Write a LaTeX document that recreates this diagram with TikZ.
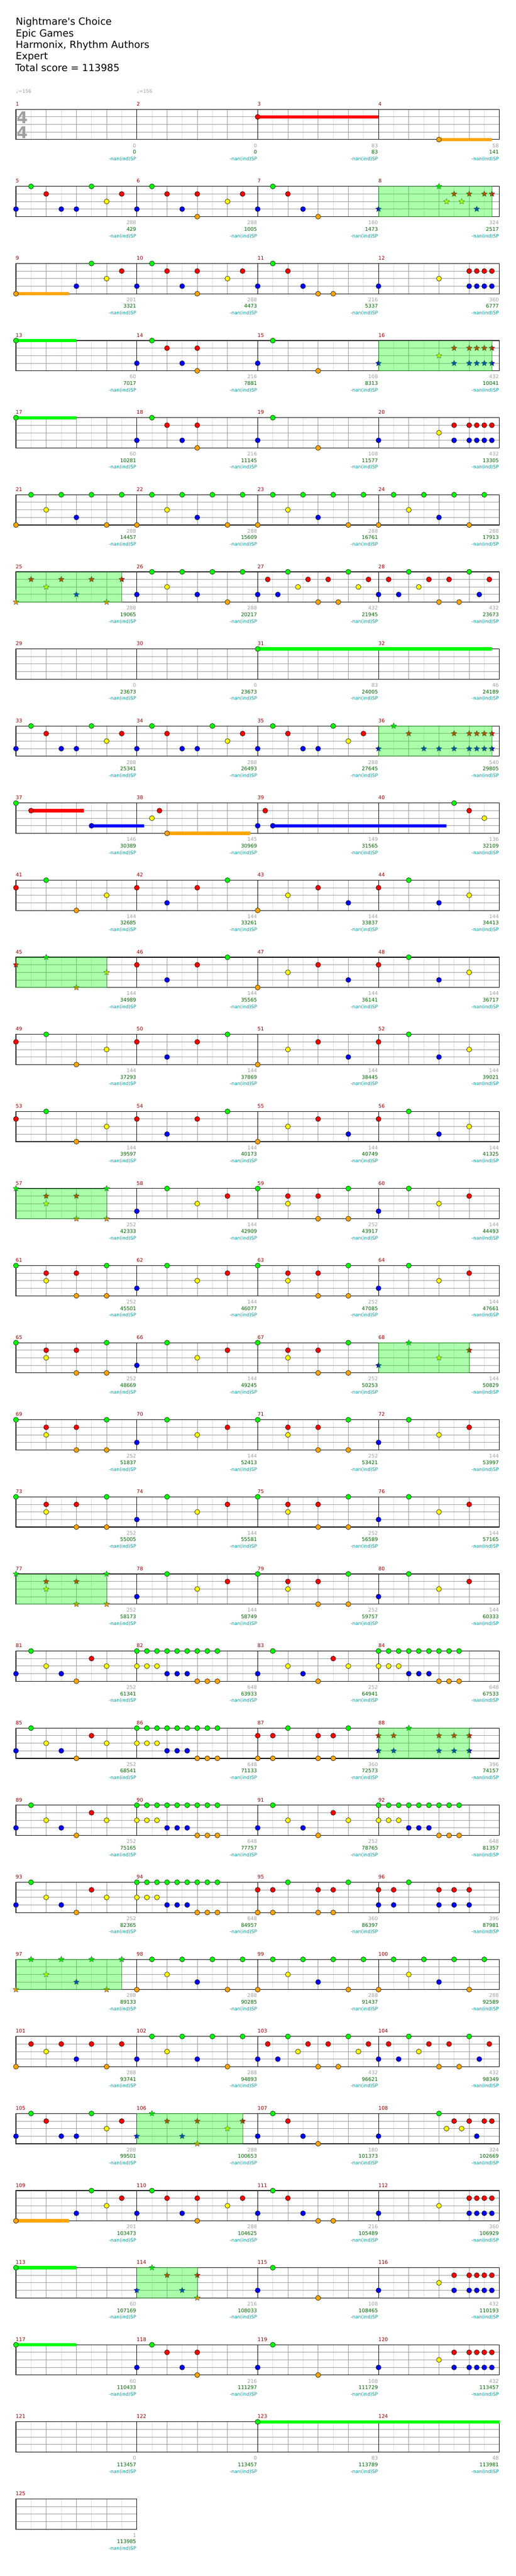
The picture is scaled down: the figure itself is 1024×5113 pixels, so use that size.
\documentclass[tikz,border=0pt]{standalone}
\usepackage{fontspec}
\setmainfont{DejaVu Sans}
\usepackage{tikz}

\definecolor{fret0}{RGB}{0,255,0}
\definecolor{fret1}{RGB}{255,0,0}
\definecolor{fret2}{RGB}{255,255,0}
\definecolor{fret3}{RGB}{0,0,255}
\definecolor{fret4}{RGB}{255,165,0}
\definecolor{measurered}{RGB}{150,0,0}
\definecolor{basegray}{RGB}{160,160,160}
\definecolor{totalgreen}{RGB}{0,100,0}
\definecolor{spteal}{RGB}{0,153,153}
\definecolor{spedge}{RGB}{0,128,0}
\definecolor{lightgrid}{RGB}{221,221,221}
\definecolor{midgrid}{RGB}{153,153,153}

\tikzset{
  eighthline/.style={draw=lightgrid, line width=1pt},
  beatline/.style={draw=midgrid, line width=1pt},
  barline/.style={draw=black, line width=1pt},
  staffframe/.style={draw=black, line width=1.2pt},
  gem/.style={draw=black, line width=0.6pt},
  stargem/.style={draw=black!80, line width=0.45pt},
  sustainbar/.style={line width=6.5pt},
  spfill/.style={fill=fret0, fill opacity=0.33, draw=spedge, draw opacity=0.7, line width=0.8pt},
  titleline/.style={anchor=base west, inner sep=0pt, font=\fontsize{19.5}{23}\selectfont},
  tempomark/.style={anchor=base west, inner sep=0pt, text=basegray, font=\fontsize{9.5}{11}\selectfont},
  timesig/.style={anchor=base, inner sep=0pt, text=basegray, font=\fontsize{32}{32}\selectfont\bfseries},
  measurenum/.style={anchor=base west, inner sep=0pt, text=measurered, font=\fontsize{10}{12}\selectfont},
  basescore/.style={anchor=base east, inner sep=0pt, text=basegray, font=\fontsize{10}{12}\selectfont},
  totalscore/.style={anchor=base east, inner sep=0pt, text=totalgreen, font=\fontsize{10}{12}\selectfont},
  spvalue/.style={anchor=base east, inner sep=0pt, text=spteal, font=\fontsize{9.3}{11}\selectfont}
}

% one row of the chart: row, first measure, measures, base/total scores
\newcommand{\chartstaff}[4]{%
  \pgfmathsetmacro{\rowy}{217+153*#1}
  \pgfmathsetmacro{\rowend}{31.7+240*#3}
  \pgfmathtruncatemacro{\neighths}{8*#3}
  \pgfmathtruncatemacro{\nbeats}{4*#3}
  \foreach \k in {1,...,\neighths}
    \draw[eighthline] ({31.7+30*\k},\rowy) -- ++(0,60);
  \foreach \k in {1,...,\nbeats}
    \draw[beatline] ({31.7+60*\k},\rowy) -- ++(0,60);
  \foreach \k in {1,2,3}
    \draw[beatline] (31.7,{\rowy+15*\k}) -- (\rowend,{\rowy+15*\k});
  \foreach \sbase/\stotal [count=\c from 0] in {#4} {
    \pgfmathtruncatemacro{\mnum}{#2+\c}
    \draw[barline] ({31.7+240*\c},\rowy) -- ++(0,60);
    \node[measurenum] (num\mnum) at ({31.2+240*\c},{\rowy-7}) {\mnum};
    \node[basescore] (base\mnum) at ({270.6+240*\c},{\rowy+75.5}) {\sbase};
    \node[totalscore] (total\mnum) at ({270.6+240*\c},{\rowy+88.5}) {\stotal};
    \node[spvalue] (spv\mnum) at ({270.6+240*\c},{\rowy+101.5}) {-nan(ind)SP};
  }
  \draw[staffframe] (31.7,\rowy) rectangle (\rowend,{\rowy+60});
}

% notes: [offset] row, list of position/lane (positions in sixteenths)
\newcommand{\gems}[3][0]{%
  \foreach \p/\l in {#3}
    \filldraw[gem, fill=fret\l] ({31.7+15*(#1+\p)},{217+153*#2+15*\l}) circle (5);
}

% star power notes
\newcommand{\stargems}[3][0]{%
  \foreach \p/\l in {#3}
    \filldraw[stargem, fill=fret\l] ({31.7+15*(#1+\p)},{217+153*#2+15*\l})
      +(270:6) -- +(306:2.8) -- +(342:6) -- +(18:2.8) -- +(54:6) -- +(90:2.8)
      -- +(126:6) -- +(162:2.8) -- +(198:6) -- +(234:2.8) -- cycle;
}

% sustain: row, from, to, lane
\newcommand{\sustain}[4]{%
  \draw[sustainbar, draw=fret#4] ({31.7+15*(#2)},{217+153*#1+15*#4})
    -- ({31.7+15*(#3)},{217+153*#1+15*#4});
}

% star power phrase: row, from, to
\newcommand{\spzone}[3]{%
  \filldraw[spfill] ({31.7+15*(#2)},{217+153*#1}) rectangle ({31.7+15*(#3)},{217+153*#1+60});
}

\begin{document}
\begin{tikzpicture}[x=1pt,y=-1pt]
  \useasboundingbox (0,0) rectangle (1024,5113);
  \fill[white] (0,0) rectangle (1024,5113);

  % Header
  \node[titleline] (song) at (31,50) {Nightmare\textquotesingle s Choice};
  \node[titleline] (artist) at (31,72.8) {Epic Games};
  \node[titleline] (charter) at (31,95.6) {Harmonix, Rhythm Authors};
  \node[titleline] (level) at (31,118.4) {Expert};
  \node[titleline] (score) at (30,141.2) {Total score = 113985};

  % Row 1
  \chartstaff{0}{1}{4}{0/0,0/0,83/83,58/141}
  \node[tempomark] (tempo1) at (31.7,184.3) {♩=156};
  \node[tempomark] (tempo2) at (271.7,184.3) {♩=156};
  \node[timesig] (tsup) at (44.5,245) {4};
  \node[timesig] (tsdown) at (44.5,275) {4};
  \sustain{0}{32}{48}{1}
  \sustain{0}{56}{63}{4}
  \gems{0}{32/1,56/4}

  % Row 2
  \chartstaff{1}{5}{4}{288/429,288/1005,180/1473,324/2517}
  \gems{1}{0/3,2/0,4/1,6/3,8/3,10/0,12/2,14/1,16/3,18/0,20/1,22/3,24/1,24/4,28/2,30/1,32/3,34/0,36/1,38/3,40/4}
  \stargems{1}{48/3,56/0,57/2,58/1,59/2,60/1,61/3,62/1,63/1}
  \spzone{1}{48}{63}

  % Row 3
  \chartstaff{2}{9}{4}{201/3321,288/4473,216/5337,360/6777}
  \sustain{2}{0}{7}{4}
  \gems{2}{0/4,8/3,10/0,12/2,14/1,16/3,18/0,20/1,22/3,24/1,24/4,28/2,30/1,32/3,34/0,36/1,38/3,40/4,42/4,48/3,56/2,60/1,60/3,61/1,61/3,62/1,62/3,63/1,63/3}

  % Row 4
  \chartstaff{3}{13}{4}{60/7017,216/7881,108/8313,432/10041}
  \sustain{3}{0}{8}{0}
  \gems{3}{0/0,16/3,18/0,20/1,22/3,24/1,24/4,32/3,34/0,40/4}
  \stargems{3}{48/3,56/2,58/1,58/3,60/1,60/3,61/1,61/3,62/1,62/3,63/1,63/3}
  \spzone{3}{48}{63}

  % Row 5
  \chartstaff{4}{17}{4}{60/10281,216/11145,108/11577,432/13305}
  \sustain{4}{0}{8}{0}
  \gems{4}{0/0,16/3,18/0,20/1,22/3,24/1,24/4,32/3,34/0,40/4,48/3,56/2,58/1,58/3,60/1,60/3,61/1,61/3,62/1,62/3,63/1,63/3}

  % Row 6
  \chartstaff{5}{21}{4}{288/14457,288/15609,288/16761,288/17913}
  \foreach \o in {0,16,32,48} {\gems[\o]{5}{0/4,2/0,4/2,6/0,8/3,10/0,12/4,14/0}}

  % Row 7
  \chartstaff{6}{25}{4}{288/19065,288/20217,432/21945,432/23673}
  \gems[16]{6}{0/3,2/0,4/2,6/0,8/3,10/0,12/4,14/0}
  \gems[32]{6}{0/3,1.333/1,2.667/3,4/0,5.333/2,6.667/1,8/4,9.333/1,10.667/4,12/0,13.333/2,14.667/1}
  \gems[48]{6}{0/3,1.333/1,2.667/3,4/0,5.333/2,6.667/1,8/4,9.333/1,10.667/4,12/0,13.333/3,14.667/1}
  \stargems{6}{0/4,2/1,4/2,6/1,8/3,10/1,12/4,14/1}
  \spzone{6}{0}{14}

  % Row 8
  \chartstaff{7}{29}{4}{0/23673,0/23673,83/24005,46/24189}
  \sustain{7}{32}{63}{0}
  \gems{7}{32/0}

  % Row 9
  \chartstaff{8}{33}{4}{288/25341,288/26493,288/27645,540/29805}
  \gems{8}{0/3,2/0,4/1,6/3,8/3,10/0,12/2,14/1,16/3,18/0,20/1,22/3,24/3,26/0,28/2,30/1,32/3,34/0,36/1,38/3,40/3,42/0,44/2,46/1}
  \stargems{8}{48/3,50/0,52/1,54/3,56/3,58/1,58/3,60/1,60/3,61/1,61/3,62/1,62/3,63/1,63/3}
  \spzone{8}{48}{63}

  % Row 10
  \chartstaff{9}{37}{4}{146/30389,145/30969,149/31565,136/32109}
  \sustain{9}{2}{9}{1}
  \sustain{9}{10}{17}{3}
  \sustain{9}{20}{31}{4}
  \sustain{9}{34}{57}{3}
  \gems{9}{0/0,2/1,10/3,18/2,19/1,20/4,32/3,33/1,34/3,58/0,60/1,62/2}

  % Rows 11 to 14
  \chartstaff{10}{41}{4}{144/32685,144/33261,144/33837,144/34413}
  \gems{10}{0/1,4/0,8/4,12/2,16/1,20/3,24/1,28/0,32/4,36/2,40/1,44/3,48/1,52/0,56/3,60/2}
  \chartstaff{11}{45}{4}{144/34989,144/35565,144/36141,144/36717}
  \gems{11}{16/1,20/3,24/1,28/0,32/4,36/2,40/1,44/3,48/1,52/0,56/3,60/2}
  \stargems{11}{0/1,4/0,8/4,12/2}
  \spzone{11}{0}{12}
  \chartstaff{12}{49}{4}{144/37293,144/37869,144/38445,144/39021}
  \gems{12}{0/1,4/0,8/4,12/2,16/1,20/3,24/1,28/0,32/4,36/2,40/1,44/3,48/1,52/0,56/3,60/2}
  \chartstaff{13}{53}{4}{144/39597,144/40173,144/40749,144/41325}
  \gems{13}{0/1,4/0,8/4,12/2,16/1,20/3,24/1,28/0,32/4,36/2,40/1,44/3,48/1,52/0,56/3,60/2}

  % Rows 15 to 20
  \chartstaff{14}{57}{4}{252/42333,144/42909,252/43917,144/44493}
  \gems{14}{16/3,20/0,24/2,28/1,32/0,36/1,36/2,40/1,40/4,44/0,44/4,48/3,52/0,56/2,60/1}
  \stargems{14}{0/0,4/1,4/2,8/1,8/4,12/0,12/4}
  \spzone{14}{0}{12}
  \chartstaff{15}{61}{4}{252/45501,144/46077,252/47085,144/47661}
  \gems{15}{0/0,4/1,4/2,8/1,8/4,12/0,12/4,16/3,20/0,24/2,28/1,32/0,36/1,36/2,40/1,40/4,44/0,44/4,48/3,52/0,56/2,60/1}
  \chartstaff{16}{65}{4}{252/48669,144/49245,252/50253,144/50829}
  \gems{16}{0/0,4/1,4/2,8/1,8/4,12/0,12/4,16/3,20/0,24/2,28/1,32/0,36/1,36/2,40/1,40/4,44/0,44/4}
  \stargems{16}{48/3,52/0,56/2,60/1}
  \spzone{16}{48}{60}
  \chartstaff{17}{69}{4}{252/51837,144/52413,252/53421,144/53997}
  \gems{17}{0/0,4/1,4/2,8/1,8/4,12/0,12/4,16/3,20/0,24/2,28/1,32/0,36/1,36/2,40/1,40/4,44/0,44/4,48/3,52/0,56/2,60/1}
  \chartstaff{18}{73}{4}{252/55005,144/55581,252/56589,144/57165}
  \gems{18}{0/0,4/1,4/2,8/1,8/4,12/0,12/4,16/3,20/0,24/2,28/1,32/0,36/1,36/2,40/1,40/4,44/0,44/4,48/3,52/0,56/2,60/1}
  \chartstaff{19}{77}{4}{252/58173,144/58749,252/59757,144/60333}
  \gems{19}{16/3,20/0,24/2,28/1,32/0,36/1,36/2,40/1,40/4,44/0,44/4,48/3,52/0,56/2,60/1}
  \stargems{19}{0/0,4/1,4/2,8/1,8/4,12/0,12/4}
  \spzone{19}{0}{12}

  % Rows 21 to 24
  \chartstaff{20}{81}{4}{252/61341,648/63933,252/64941,648/67533}
  \gems{20}{0/3,2/0,4/2,6/3,8/4,10/1,12/2,32/3,34/0,36/2,38/3,40/4,42/1,44/2}
  \foreach \o in {16,48} {\gems[\o]{20}{0/0,0/2,1.333/0,1.333/2,2.667/0,2.667/2,4/0,4/3,5.333/0,5.333/3,6.667/0,6.667/3,8/0,8/4,9.333/0,9.333/4,10.667/0,10.667/4}}
  \chartstaff{21}{85}{4}{252/68541,648/71133,360/72573,396/74157}
  \gems{21}{0/3,2/0,4/2,6/3,8/4,10/1,12/2,32/1,32/4,34/1,34/4,36/0,40/1,40/4,42/1,42/4,44/0}
  \gems[16]{21}{0/0,0/2,1.333/0,1.333/2,2.667/0,2.667/2,4/0,4/3,5.333/0,5.333/3,6.667/0,6.667/3,8/0,8/4,9.333/0,9.333/4,10.667/0,10.667/4}
  \stargems{21}{48/1,48/3,50/1,50/3,52/0,56/1,56/3,58/1,58/3,60/1,60/3}
  \spzone{21}{48}{60}
  \chartstaff{22}{89}{4}{252/75165,648/77757,252/78765,648/81357}
  \gems{22}{0/3,2/0,4/2,6/3,8/4,10/1,12/2,32/3,34/0,36/2,38/3,40/4,42/1,44/2}
  \foreach \o in {16,48} {\gems[\o]{22}{0/0,0/2,1.333/0,1.333/2,2.667/0,2.667/2,4/0,4/3,5.333/0,5.333/3,6.667/0,6.667/3,8/0,8/4,9.333/0,9.333/4,10.667/0,10.667/4}}
  \chartstaff{23}{93}{4}{252/82365,648/84957,360/86397,396/87981}
  \gems{23}{0/3,2/0,4/2,6/3,8/4,10/1,12/2,32/1,32/4,34/1,34/4,36/0,40/1,40/4,42/1,42/4,44/0,48/1,48/3,50/1,50/3,52/0,56/1,56/3,58/1,58/3,60/1,60/3}
  \gems[16]{23}{0/0,0/2,1.333/0,1.333/2,2.667/0,2.667/2,4/0,4/3,5.333/0,5.333/3,6.667/0,6.667/3,8/0,8/4,9.333/0,9.333/4,10.667/0,10.667/4}

  % Rows 25 to 27
  \chartstaff{24}{97}{4}{288/89133,288/90285,288/91437,288/92589}
  \foreach \o in {16,32,48} {\gems[\o]{24}{0/4,2/0,4/2,6/0,8/3,10/0,12/4,14/0}}
  \stargems{24}{0/4,2/0,4/2,6/0,8/3,10/0,12/4,14/0}
  \spzone{24}{0}{14}
  \chartstaff{25}{101}{4}{288/93741,288/94893,432/96621,432/98349}
  \gems{25}{0/4,2/1,4/2,6/1,8/3,10/1,12/4,14/1,16/3,18/0,20/2,22/0,24/3,26/0,28/4,30/0}
  \gems[32]{25}{0/3,1.333/1,2.667/3,4/0,5.333/2,6.667/1,8/4,9.333/1,10.667/4,12/0,13.333/2,14.667/1}
  \gems[48]{25}{0/3,1.333/1,2.667/3,4/0,5.333/2,6.667/1,8/4,9.333/1,10.667/4,12/0,13.333/3,14.667/1}
  \chartstaff{26}{105}{4}{288/99501,288/100653,180/101373,324/102669}
  \gems{26}{0/3,2/0,4/1,6/3,8/3,10/0,12/2,14/1,32/3,34/0,36/1,38/3,40/4,48/3,56/0,57/2,58/1,59/2,60/1,61/3,62/1,63/1}
  \stargems{26}{16/3,18/0,20/1,22/3,24/1,24/4,28/2,30/1}
  \spzone{26}{16}{30}

  % Rows 28 to 30
  \chartstaff{27}{109}{4}{201/103473,288/104625,216/105489,360/106929}
  \sustain{27}{0}{7}{4}
  \gems{27}{0/4,8/3,10/0,12/2,14/1,16/3,18/0,20/1,22/3,24/1,24/4,28/2,30/1,32/3,34/0,36/1,38/3,40/4,42/4,48/3,56/2,60/1,60/3,61/1,61/3,62/1,62/3,63/1,63/3}
  \chartstaff{28}{113}{4}{60/107169,216/108033,108/108465,432/110193}
  \sustain{28}{0}{8}{0}
  \gems{28}{0/0,32/3,34/0,40/4,48/3,56/2,58/1,58/3,60/1,60/3,61/1,61/3,62/1,62/3,63/1,63/3}
  \stargems{28}{16/3,18/0,20/1,22/3,24/1,24/4}
  \spzone{28}{16}{24}
  \chartstaff{29}{117}{4}{60/110433,216/111297,108/111729,432/113457}
  \sustain{29}{0}{8}{0}
  \gems{29}{0/0,16/3,18/0,20/1,22/3,24/1,24/4,32/3,34/0,40/4,48/3,56/2,58/1,58/3,60/1,60/3,61/1,61/3,62/1,62/3,63/1,63/3}

  % Rows 31 and 32
  \chartstaff{30}{121}{4}{0/113457,0/113457,83/113789,48/113981}
  \sustain{30}{32}{64}{0}
  \gems{30}{32/0}
  \chartstaff{31}{125}{1}{1/113985}
\end{tikzpicture}
\end{document}
